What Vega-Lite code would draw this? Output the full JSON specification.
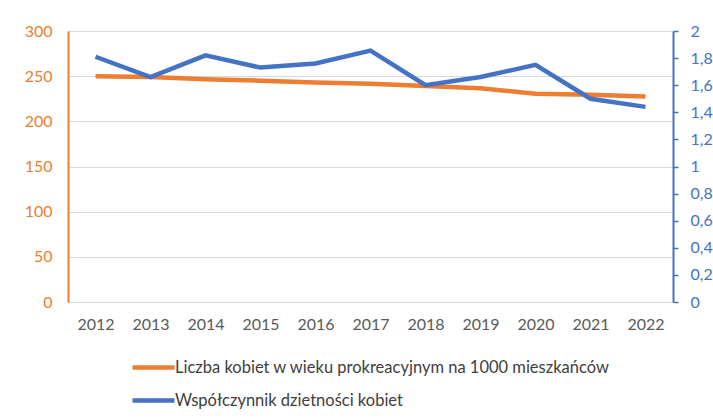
{
  "$schema": "https://vega.github.io/schema/vega-lite/v6.json",
  "width": 605,
  "height": 271,
  "autosize": {"type": "none"},
  "padding": {"left": 68, "top": 31, "right": 40, "bottom": 118},
  "config": {"font": "Lato", "view": {"stroke": null}},
  "data": {
    "values": [
      {"year": "2012", "series": "Liczba kobiet w wieku prokreacyjnym na 1000 mieszkańców", "value": 250},
      {"year": "2013", "series": "Liczba kobiet w wieku prokreacyjnym na 1000 mieszkańców", "value": 249},
      {"year": "2014", "series": "Liczba kobiet w wieku prokreacyjnym na 1000 mieszkańców", "value": 246.5},
      {"year": "2015", "series": "Liczba kobiet w wieku prokreacyjnym na 1000 mieszkańców", "value": 245},
      {"year": "2016", "series": "Liczba kobiet w wieku prokreacyjnym na 1000 mieszkańców", "value": 243},
      {"year": "2017", "series": "Liczba kobiet w wieku prokreacyjnym na 1000 mieszkańców", "value": 241.5},
      {"year": "2018", "series": "Liczba kobiet w wieku prokreacyjnym na 1000 mieszkańców", "value": 239},
      {"year": "2019", "series": "Liczba kobiet w wieku prokreacyjnym na 1000 mieszkańców", "value": 236.5},
      {"year": "2020", "series": "Liczba kobiet w wieku prokreacyjnym na 1000 mieszkańców", "value": 230.5},
      {"year": "2021", "series": "Liczba kobiet w wieku prokreacyjnym na 1000 mieszkańców", "value": 229.5},
      {"year": "2022", "series": "Liczba kobiet w wieku prokreacyjnym na 1000 mieszkańców", "value": 227.5},
      {"year": "2012", "series": "Współczynnik dzietności kobiet", "value": 1.81},
      {"year": "2013", "series": "Współczynnik dzietności kobiet", "value": 1.66},
      {"year": "2014", "series": "Współczynnik dzietności kobiet", "value": 1.82},
      {"year": "2015", "series": "Współczynnik dzietności kobiet", "value": 1.73},
      {"year": "2016", "series": "Współczynnik dzietności kobiet", "value": 1.76},
      {"year": "2017", "series": "Współczynnik dzietności kobiet", "value": 1.855},
      {"year": "2018", "series": "Współczynnik dzietności kobiet", "value": 1.6},
      {"year": "2019", "series": "Współczynnik dzietności kobiet", "value": 1.66},
      {"year": "2020", "series": "Współczynnik dzietności kobiet", "value": 1.75},
      {"year": "2021", "series": "Współczynnik dzietności kobiet", "value": 1.5},
      {"year": "2022", "series": "Współczynnik dzietności kobiet", "value": 1.44}
    ]
  },
  "encoding": {
    "x": {
      "field": "year",
      "type": "ordinal",
      "scale": {"padding": 0.5},
      "axis": {
        "title": null,
        "labelAngle": 0,
        "labelFontSize": 16,
        "labelColor": "#595959",
        "labelPadding": 14,
        "ticks": false,
        "grid": false,
        "domainColor": "#D9D9D9",
        "domainWidth": 1
      }
    },
    "color": {
      "field": "series",
      "type": "nominal",
      "scale": {
        "domain": ["Liczba kobiet w wieku prokreacyjnym na 1000 mieszkańców", "Współczynnik dzietności kobiet"],
        "range": ["#ED7D31", "#4472C4"]
      },
      "legend": {
        "orient": "none",
        "legendX": 62,
        "legendY": 313,
        "title": null,
        "direction": "vertical",
        "symbolType": "stroke",
        "symbolSize": 1764,
        "symbolStrokeWidth": 4.5,
        "labelFontSize": 16.5,
        "labelColor": "#404040",
        "labelOffset": -2,
        "labelLimit": 600,
        "rowPadding": -9
      }
    }
  },
  "layer": [
    {
      "transform": [{"filter": "datum.series === 'Liczba kobiet w wieku prokreacyjnym na 1000 mieszkańców'"}],
      "mark": {"type": "line", "strokeWidth": 4.5},
      "encoding": {
        "y": {
          "field": "value",
          "type": "quantitative",
          "scale": {"domain": [0, 300]},
          "axis": {
            "title": null,
            "orient": "left",
            "values": [0, 50, 100, 150, 200, 250, 300],
            "labelFontSize": 16,
            "labelColor": "#ED7D31",
            "labelPadding": 16,
            "ticks": false,
            "domainColor": "#ED7D31",
            "domainWidth": 2,
            "grid": true,
            "gridColor": "#D9D9D9",
            "gridWidth": 1
          }
        }
      }
    },
    {
      "transform": [{"filter": "datum.series === 'Współczynnik dzietności kobiet'"}],
      "mark": {"type": "line", "strokeWidth": 4.5},
      "encoding": {
        "y": {
          "field": "value",
          "type": "quantitative",
          "scale": {"domain": [0, 2]},
          "axis": {
            "title": null,
            "orient": "right",
            "values": [0, 0.2, 0.4, 0.6, 0.8, 1, 1.2, 1.4, 1.6, 1.8, 2],
            "labelExpr": "replace(format(datum.value, '~g'), '.', ',')",
            "labelFontSize": 16,
            "labelColor": "#4472C4",
            "labelPadding": 12,
            "ticks": true,
            "tickColor": "#4472C4",
            "tickSize": 5,
            "tickWidth": 1.5,
            "domainColor": "#4472C4",
            "domainWidth": 2,
            "grid": false
          }
        }
      }
    }
  ],
  "resolve": {"scale": {"y": "independent"}}
}
